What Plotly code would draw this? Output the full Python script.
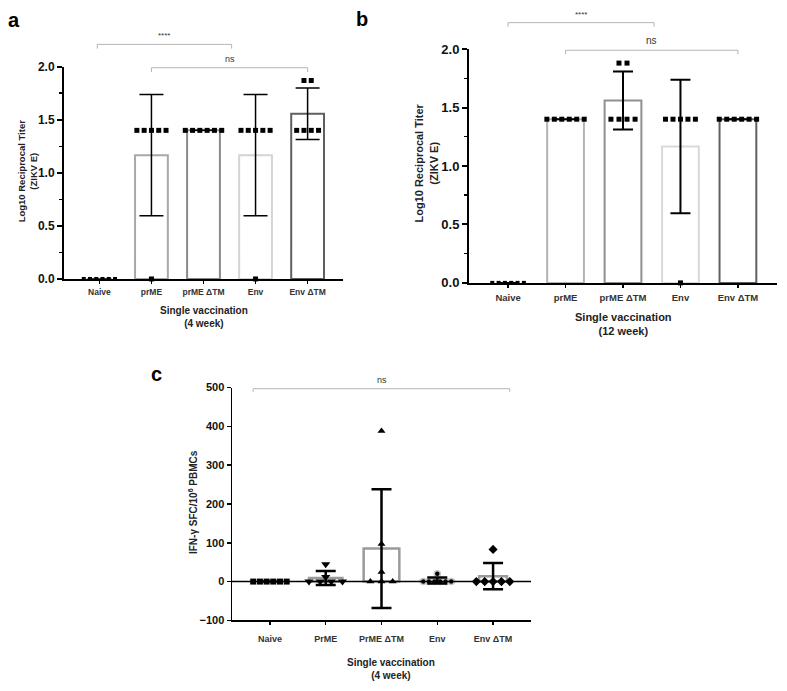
import numpy as np
import plotly.graph_objects as go

# ---------------- data ----------------
cats_ab = ["Naive", "prME", "prME ΔTM", "Env", "Env ΔTM"]
cats_c = ["Naive", "PrME", "PrME ΔTM", "Env", "Env ΔTM"]

# Panel a: Log10 reciprocal titer, single vaccination (4 week)
a_naive = [0, 0, 0, 0, 0, 0]
a_prme = [1.4, 1.4, 1.4, 1.4, 1.4, 0]
a_prme_dtm = [1.4, 1.4, 1.4, 1.4, 1.4, 1.4]
a_env = [1.4, 1.4, 1.4, 1.4, 1.4, 0]
a_env_dtm = [1.4, 1.4, 1.4, 1.4, 1.87, 1.87]

# Panel b: Log10 reciprocal titer, single vaccination (12 week)
b_naive = [0, 0, 0, 0, 0, 0]
b_prme = [1.4, 1.4, 1.4, 1.4, 1.4, 1.4]
b_prme_dtm = [1.4, 1.4, 1.4, 1.4, 1.88, 1.88]
b_env = [1.4, 1.4, 1.4, 1.4, 1.4, 0]
b_env_dtm = [1.4, 1.4, 1.4, 1.4, 1.4, 1.4]

# Panel c: IFN-gamma SFC / 10^6 PBMCs
c_naive = [0, 0, 0, 0, 0, 0]
c_prme = [45, 12, 0, 0, 0, 0]
c_prme_dtm = [388, 97, 25, 0, 0, 0]
c_env = [20, 0, 0, 0, 0, 0, 0]
c_env_dtm = [83, 0, 0, 0, 0, 0]

a_groups = [a_naive, a_prme, a_prme_dtm, a_env, a_env_dtm]
b_groups = [b_naive, b_prme, b_prme_dtm, b_env, b_env_dtm]
c_groups = [c_naive, c_prme, c_prme_dtm, c_env, c_env_dtm]

# ---------------- layout helpers ----------------
W, H = 787, 691
def fx(p):
    return p / W
def fy(p):
    return 1 - p / H

FONT = "Liberation Sans, Arial, sans-serif"

def spread(vals, step):
    vals = np.asarray(vals, dtype=float)
    offs = np.zeros(len(vals))
    for v in np.unique(vals):
        idx = np.where(vals == v)[0]
        k = len(idx)
        offs[idx] = (np.arange(k) - (k - 1) / 2) * step
    return offs

fig = go.Figure()
shapes = []
annotations = []

def add_panel(groups, xa, ya, bar_colors, bar_widths, bar_lw, symbols, sizes, steps,
              err_th, err_w, marker_line=None):
    means = [float(np.mean(g)) for g in groups]
    sds = [float(np.std(g, ddof=1)) for g in groups]
    xs = list(range(len(groups)))
    fig.add_trace(go.Bar(
        x=xs, y=means, width=bar_widths, xaxis=xa, yaxis=ya,
        marker=dict(color="white", line=dict(color=bar_colors, width=bar_lw)),
        showlegend=False, hoverinfo="skip"))
    for i, g in enumerate(groups):
        offs = spread(g, steps[i])
        mline = marker_line[i] if marker_line else dict(width=0)
        fig.add_trace(go.Scatter(
            x=i + offs, y=g, mode="markers", xaxis=xa, yaxis=ya, cliponaxis=False,
            marker=dict(symbol=symbols[i], size=sizes[i], color="black", line=mline),
            showlegend=False, hoverinfo="skip"))
    err = [s if s > 0 else None for s in sds]
    fig.add_trace(go.Scatter(
        x=xs, y=means, mode="markers", xaxis=xa, yaxis=ya, cliponaxis=False,
        marker=dict(size=1, color="rgba(0,0,0,0)"),
        error_y=dict(type="data", array=err, color="black", thickness=err_th, width=err_w),
        showlegend=False, hoverinfo="skip"))

def bracket(xa, ya, x0, x1, yv, drop, ymin, ymax, text, fs, color="#b4b4b4"):
    f = lambda v: (v - ymin) / (ymax - ymin)
    yr = ya + " domain"
    line = dict(color=color, width=1)
    shapes.append(dict(type="line", xref=xa, yref=yr, x0=x0, x1=x1, y0=f(yv), y1=f(yv), line=line))
    shapes.append(dict(type="line", xref=xa, yref=yr, x0=x0, x1=x0, y0=f(yv), y1=f(yv - drop), line=line))
    shapes.append(dict(type="line", xref=xa, yref=yr, x0=x1, x1=x1, y0=f(yv), y1=f(yv - drop), line=line))
    annotations.append(dict(xref=xa, yref=yr, x=(x0 + x1) / 2, y=f(yv), yanchor="bottom",
                            xanchor="center", yshift=2, text=text, showarrow=False,
                            font=dict(family=FONT, size=fs, color="#333")))

# Panel a
add_panel(a_groups, "x", "y",
          ["rgba(0,0,0,0)", "#a8a8a8", "#8a8a8a", "#d4d4d4", "#5f5f5f"],
          0.63, 2, ["square"] * 5, [4, 5, 5, 5, 5], [0.12, 0.14, 0.14, 0.14, 0.14],
          1.5, 12)
# Panel b
add_panel(b_groups, "x2", "y2",
          ["rgba(0,0,0,0)", "#b4b4b4", "#8f8f8f", "#d9d9d9", "#606060"],
          0.64, 2, ["square"] * 5, [4, 5, 5, 5, 5], [0.11, 0.13, 0.14, 0.13, 0.13],
          2, 10)
# Panel c
add_panel(c_groups, "x3", "y3",
          ["rgba(0,0,0,0)", "#9a9a9a", "#9a9a9a", "#cfcfcf", "#9a9a9a"],
          [0.6, 0.6, 0.64, 0.6, 0.5], 2.5,
          ["square", "triangle-down", "triangle-up", "circle", "diamond"],
          [6, 8, 7, 6, 7], [0.12, 0.2, 0.2, 0.1, 0.15],
          2.5, 10,
          marker_line=[dict(width=0), dict(width=0), dict(width=0),
                       dict(width=1.5, color="#c8c8c8"), dict(width=0)])

# significance brackets
bracket("x", "y", -0.04, 2.54, 2.21, 0.04, 0, 2, "****", 8)
bracket("x", "y", 1.0, 4.0, 1.99, 0.04, 0, 2, "ns", 9)
bracket("x2", "y2", 0.0, 2.54, 2.226, 0.035, 0, 2, "****", 8)
bracket("x2", "y2", 1.0, 4.0, 1.99, 0.035, 0, 2, "ns", 10)
bracket("x3", "y3", -0.3, 4.3, 497, 8, -100, 500, "ns", 9)

# zero line in panel c
shapes.append(dict(type="line", xref="x3 domain", yref="y3", x0=0, x1=1, y0=0, y1=0,
                   line=dict(color="black", width=1.5), layer="above"))

def txt(x, y, text, size, angle=0, color="#222", bold=True):
    annotations.append(dict(xref="paper", yref="paper", x=fx(x), y=fy(y), text=text,
                            showarrow=False, xanchor="center", yanchor="middle",
                            textangle=angle,
                            font=dict(family=FONT, size=size, color=color,
                                      weight="bold" if bold else "normal")))

# panel letters
txt(14, 13, "a", 20, color="black")
txt(362, 12, "b", 20, color="black")
txt(156, 375, "c", 20, color="black")

# axis titles
txt(27, 168, "Log10 Reciprocal Titer<br>(ZIKV E)", 9.5, angle=-90)
txt(426, 160, "Log10 Reciprocal Titer<br>(ZIKV E)", 11, angle=-90)
txt(193, 506, "IFN-γ SFC/10<sup>6</sup> PBMCs", 10, angle=-90)
txt(204, 317, "Single vaccination<br>(4 week)", 10)
txt(623, 324, "Single vaccination<br>(12 week)", 11)
txt(391, 677, "Single vaccination<br>(4 week)", 10)

def xaxis(dom, cats, fs, lw, anchor, standoff):
    return dict(domain=dom, range=[-0.68, 4.68], anchor=anchor, tickmode="array",
                tickvals=list(range(len(cats))), ticktext=cats, showline=True,
                linecolor="black", linewidth=lw, ticks="outside", ticklen=3, tickwidth=1.5,
                tickcolor="black", showgrid=False, zeroline=False, fixedrange=True,
                ticklabelstandoff=standoff,
                tickfont=dict(family=FONT, size=fs, color="#333", weight="bold"))

def yaxis_ab(dom, fs, anchor):
    return dict(domain=dom, range=[0, 2], anchor=anchor, tickmode="linear", tick0=0,
                dtick=0.5, tickformat=".1f", showline=True, linecolor="black", linewidth=2,
                ticks="outside", ticklen=5, tickwidth=2, tickcolor="black",
                minor=dict(dtick=0.25, ticks="outside", ticklen=3, tickwidth=1.5,
                           tickcolor="black"),
                showgrid=False, zeroline=False, fixedrange=True,
                tickfont=dict(family=FONT, size=fs, color="#111", weight="bold"))

layout = dict(
    width=W, height=H, margin=dict(l=0, r=0, t=0, b=0),
    paper_bgcolor="white", plot_bgcolor="white", barmode="overlay",
    showlegend=False,
    xaxis=xaxis([fx(64), fx(343)], cats_ab, 8.5, 2, "y", 1),
    yaxis=yaxis_ab([fy(278), fy(61)], 12, "x"),
    xaxis2=xaxis([fx(469), fx(777)], cats_ab, 9.5, 2, "y2", 2),
    yaxis2=yaxis_ab([fy(282), fy(43)], 13, "x2"),
    xaxis3=xaxis([fx(232), fx(531)], cats_c, 9, 1.5, "y3", 6),
    yaxis3=dict(domain=[fy(627), fy(389)], range=[-100, 500], anchor="x3",
                tickmode="linear", tick0=-100, dtick=100, showline=True,
                linecolor="black", linewidth=1.5, ticks="outside", ticklen=4,
                tickwidth=1.5, tickcolor="black", showgrid=False, zeroline=False,
                fixedrange=True,
                tickfont=dict(family=FONT, size=11, color="#111", weight="bold")),
    shapes=shapes, annotations=annotations,
)
fig.update_layout(layout)
fig.write_html("out.html",
               config={"displayModeBar": False, "staticPlot": True},
               post_script="document.body.style.margin='0';"
                           "document.body.style.overflow='hidden';")
